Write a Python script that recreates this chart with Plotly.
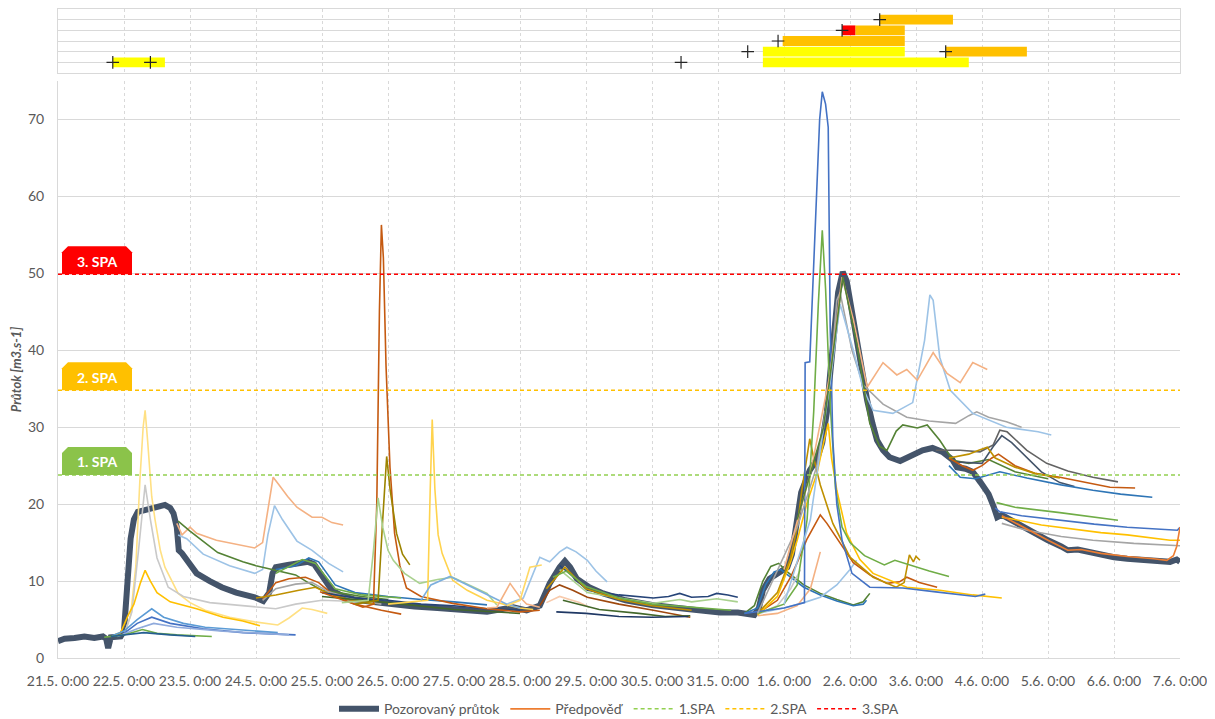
import pandas as pd
import plotly.graph_objects as go

START = pd.Timestamp("2021-05-21")
END_DAY = 17

tick_days = list(range(18))
tick_labels = ["21.5. 0:00", "22.5. 0:00", "23.5. 0:00", "24.5. 0:00", "25.5. 0:00",
               "26.5. 0:00", "27.5. 0:00", "28.5. 0:00", "29.5. 0:00", "30.5. 0:00",
               "31.5. 0:00", "1.6. 0:00", "2.6. 0:00", "3.6. 0:00", "4.6. 0:00",
               "5.6. 0:00", "6.6. 0:00", "7.6. 0:00"]

# observed flow (day offset from 21.5. 0:00, m3/s)
obs_day = [0.00, 0.10, 0.25, 0.40, 0.55, 0.68, 0.73, 0.76, 0.80, 0.95, 1.00, 1.03, 1.06, 1.10,
           1.15, 1.21, 1.30, 1.47, 1.62, 1.70, 1.75, 1.80, 1.83, 1.88, 2.00, 2.10, 2.30, 2.48,
           2.70, 2.98, 3.11, 3.20, 3.25, 3.30, 3.48, 3.65, 3.79, 3.88, 3.94, 4.05, 4.15, 4.30,
           4.50, 4.75, 5.00, 5.40, 5.75, 6.20, 6.50, 6.90, 7.10, 7.30, 7.45, 7.60, 7.68, 7.76,
           7.86, 8.05, 8.26, 8.60, 9.00, 9.50, 10.03, 10.30, 10.55, 10.62, 10.68, 10.78, 10.90,
           11.05, 11.12, 11.20, 11.26, 11.39, 11.50, 11.58, 11.65, 11.70, 11.76, 11.82, 11.89,
           11.95, 12.03, 12.11, 12.20, 12.26, 12.34, 12.41, 12.50, 12.60, 12.76, 12.95, 13.10,
           13.25, 13.40, 13.55, 13.62, 13.75, 13.86, 13.98, 14.10, 14.18, 14.23, 14.30, 14.40,
           14.60, 14.80, 15.00, 15.20, 15.30, 15.45, 15.60, 15.80, 16.00, 16.20, 16.45, 16.70,
           16.85, 16.95, 17.00]
obs_flow = [2.2, 2.5, 2.6, 2.8, 2.6, 2.8, 2.5, 1.3, 2.7, 2.8, 3.5, 7.0, 11.8, 15.5,
            18.0, 19.0, 19.2, 19.6, 19.9, 19.5, 18.8, 17.0, 14.0, 13.6, 12.0, 11.0, 10.0, 9.2,
            8.5, 7.9, 7.4, 8.5, 11.0, 11.8, 12.1, 12.3, 12.5, 12.2, 11.4, 9.9, 8.8, 8.1,
            7.6, 7.3, 7.0, 6.7, 6.5, 6.1, 6.0, 6.6, 6.2, 6.8, 9.7, 11.8, 12.6, 11.8,
            10.3, 9.2, 8.4, 7.5, 6.9, 6.4, 5.9, 5.9, 5.6, 6.5, 8.8, 10.3, 11.0,
            11.8, 13.5, 18.5, 21.5, 24.4, 25.8, 28.0, 32.0, 37.0, 43.0, 47.5, 50.2,
            49.0, 45.0, 41.0, 36.0, 33.5, 30.5, 28.3, 27.0, 26.1, 25.6, 26.3, 27.0,
            27.3, 26.8, 25.8, 24.8, 24.6, 24.2, 22.8, 21.3, 19.6, 18.3, 18.6, 18.1,
            17.2, 16.3, 15.3, 14.5, 14.0, 14.1, 13.8, 13.4, 13.1, 12.9, 12.8, 12.6,
            12.5, 12.8, 12.5]

# forecasts: (day offset, flow)
fc_a1 = [(1.0, 3.0), (1.10, 5.5), (1.18, 12), (1.24, 23), (1.29, 30), (1.32, 32.2), (1.36, 28),
         (1.42, 21), (1.47, 18), (1.55, 14), (1.62, 11.8), (1.82, 8.4), (2.0, 7.2), (2.23, 6.2),
         (2.6, 5.3), (2.98, 4.7), (3.33, 4.3), (3.5, 5.2), (3.7, 6.5), (3.85, 6.3), (4.08, 5.8)]
fc_a2 = [(1.0, 3.0), (1.12, 6), (1.22, 14), (1.32, 22.5), (1.40, 18), (1.50, 13), (1.67, 9.2),
         (1.9, 8.0), (2.3, 7.2), (2.98, 6.6), (3.3, 6.4), (3.6, 7.0), (4.0, 7.5), (4.3, 7.4), (4.6, 7.3)]
fc_a3 = [(0.85, 3.0), (0.95, 3.3), (1.06, 5.5), (1.15, 7), (1.25, 9.8), (1.32, 11.4), (1.40, 10),
         (1.5, 8.5), (1.7, 7.3), (2.1, 6.4), (2.5, 5.3), (2.8, 4.8), (3.06, 4.2)]
fc_a4 = [(0.82, 2.9), (1.0, 3.5), (1.2, 5.0), (1.42, 6.4), (1.6, 5.3), (1.9, 4.5), (2.23, 4.0),
         (2.8, 3.6), (3.33, 3.3)]
fc_a5 = [(1.0, 3.2), (1.2, 4.5), (1.42, 5.3), (1.7, 4.5), (2.2, 3.8), (2.8, 3.3), (3.6, 3.0)]
fc_a6 = [(0.9, 2.8), (1.2, 3.8), (1.45, 4.5), (1.8, 4.0), (2.5, 3.5), (3.1, 3.2), (3.5, 3.0)]
fc_a7 = [(0.7, 2.7), (1.0, 3.0), (1.28, 3.7), (1.5, 3.2), (1.8, 3.0), (2.33, 2.8)]
fc_a8 = [(0.8, 2.8), (1.3, 3.3), (1.7, 3.0), (2.08, 2.8)]
fc_b1 = [(1.80, 17.5), (1.88, 16.0), (2.0, 17.0), (2.1, 16.2), (2.4, 15.3), (2.7, 14.8), (2.98, 14.3),
         (3.1, 15.0), (3.18, 19), (3.26, 23.5), (3.35, 22.5), (3.48, 21), (3.62, 19.6), (3.85, 18.3),
         (4.0, 18.3), (4.15, 17.6), (4.32, 17.3)]
fc_b2 = [(1.82, 16), (1.95, 15.5), (2.2, 13.5), (2.6, 12.0), (2.98, 11.0), (3.1, 11.5), (3.18, 16),
         (3.28, 19.8), (3.40, 18), (3.62, 15.2), (3.85, 14.0), (4.1, 12.3), (4.32, 11.2)]
fc_b3 = [(1.82, 17.8), (2.0, 16.5), (2.42, 13.7), (2.8, 12.5), (3.0, 12.0), (3.29, 11.4), (3.6, 10.8),
         (3.79, 9.8), (4.0, 8.8), (4.32, 8.4), (4.6, 8.0), (5.0, 7.6)]
fc_c1 = [(3.1, 7.6), (3.3, 9.8), (3.5, 10.3), (3.75, 10.5), (3.95, 9.8), (4.2, 8.0), (4.5, 7.0),
         (4.9, 6.2), (5.2, 5.7)]
fc_c2 = [(3.1, 7.5), (3.3, 9.0), (3.6, 9.6), (3.85, 9.8), (4.1, 8.6), (4.5, 7.6), (4.9, 7.0)]
fc_c3 = [(3.0, 7.8), (3.3, 8.2), (3.65, 8.8), (3.9, 9.2), (4.1, 8.4), (4.4, 7.6), (4.8, 7.0)]
fc_c4 = [(3.3, 11.5), (3.6, 12.0), (3.8, 13.0), (3.95, 12.5), (4.2, 9.5), (4.5, 8.5), (5.0, 8.0),
         (5.5, 7.6), (6.0, 7.3), (6.5, 6.9)]
fc_c5 = [(3.3, 11), (3.7, 12.8), (3.9, 12.3), (4.2, 9.0), (4.6, 8.2), (5.2, 7.8)]
fc_d1 = [(3.97, 8.6), (4.3, 7.6), (4.62, 6.6), (4.78, 7.0), (4.83, 20), (4.87, 45), (4.90, 56.3),
         (4.93, 52), (4.97, 38), (5.03, 24.8), (5.10, 16.2), (5.18, 12), (5.28, 9.1), (5.5, 8.0),
         (5.98, 7.1), (6.5, 6.4), (7.0, 6.0), (7.3, 6.2)]
fc_d2 = [(4.5, 7.0), (4.85, 7.5), (4.92, 18), (4.98, 26.2), (5.03, 22), (5.13, 16.2), (5.22, 13.5),
         (5.33, 12.1)]
fc_d3 = [(4.3, 7.2), (4.7, 7.5), (4.78, 14), (4.85, 20.8), (4.92, 17), (5.0, 14), (5.08, 12.7),
         (5.25, 11), (5.48, 9.7), (5.75, 10.2), (5.98, 10.5), (6.2, 9.6), (6.5, 8.4), (6.65, 6.9)]
fc_d4 = [(5.0, 7.0), (5.6, 7.5), (5.64, 22), (5.67, 31), (5.71, 22), (5.76, 16), (5.82, 13.6),
         (5.98, 10.1), (6.2, 8.8), (6.5, 7.5), (7.0, 6.5), (7.2, 6.3)]
fc_d5 = [(5.5, 7.5), (5.65, 9.5), (5.94, 10.6), (6.2, 9.5), (6.5, 8.3), (6.8, 7.0), (7.0, 6.5)]
fc_d6 = [(4.0, 8.5), (4.5, 7.8), (5.0, 7.5), (5.5, 7.0), (6.0, 6.8), (6.5, 6.4), (7.0, 6.2)]
fc_d7 = [(4.0, 8.0), (5.0, 7.2), (6.0, 6.3), (7.0, 5.8)]
fc_e1 = [(6.8, 7.0), (7.05, 7.8), (7.2, 11), (7.3, 13.1), (7.45, 12.5), (7.6, 13.8), (7.71, 14.4),
         (7.85, 13.8), (8.02, 12.7), (8.15, 11.3), (8.32, 9.9)]
fc_e2 = [(6.5, 6.5), (6.65, 6.6), (6.85, 9.7), (7.0, 7.9), (7.1, 7.0), (7.3, 6.6)]
fc_e3 = [(6.8, 6.8), (7.0, 7.5), (7.15, 11.8), (7.33, 12.1)]
fc_e4 = [(7.3, 6.8), (7.45, 8.8), (7.6, 9.5), (7.8, 8.8), (8.02, 7.9), (8.5, 7.0), (9.02, 6.2),
         (9.58, 5.3)]
fc_e5 = [(7.4, 7.2), (7.6, 8.0), (7.9, 7.2), (8.05, 6.6)]
fc_e6 = [(7.6, 12), (7.75, 11), (8.02, 8.8), (8.5, 8.2), (9.02, 7.8), (9.25, 8.0), (9.42, 8.4),
         (9.6, 7.9), (9.85, 8.0), (9.98, 8.4), (10.15, 8.2), (10.3, 7.9)]
fc_e7 = [(7.6, 11.5), (8.02, 8.5), (8.5, 7.8), (9.02, 7.1), (9.42, 7.6), (9.6, 7.3), (9.98, 7.7),
         (10.3, 7.3)]
fc_e8 = [(7.65, 7.5), (7.8, 7.2), (8.2, 6.3), (8.8, 5.8), (9.2, 5.4), (9.58, 5.5)]
fc_e9 = [(7.55, 6.0), (8.0, 5.8), (8.5, 5.4), (9.0, 5.3), (9.55, 5.4)]
fc_e10 = [(7.4, 9), (7.68, 11.8), (8.0, 9), (8.5, 7.6), (9.0, 6.8), (9.6, 6.2)]
fc_e11 = [(7.5, 10.5), (7.7, 11.3), (8.0, 9.3), (8.5, 7.8), (9.0, 7.0), (9.6, 6.6), (10.2, 6.2)]
fc_f1 = [(10.4, 5.8), (10.55, 6.8), (10.68, 10), (10.8, 11.9), (10.92, 12.3), (11.05, 11.2),
         (11.3, 9.5), (11.55, 8.4), (11.8, 7.6), (12.05, 6.9), (12.2, 7.3), (12.3, 8.4)]
fc_f2 = [(10.4, 5.8), (10.6, 6.5), (10.72, 9.5), (10.85, 11.2), (10.95, 11.5), (11.1, 10.5),
         (11.3, 9.2), (11.55, 8.2), (11.8, 7.4), (12.05, 6.8), (12.2, 7.0), (12.25, 7.5)]
fc_f3 = [(10.6, 5.8), (11.0, 6.5), (11.3, 7.2), (11.55, 7.9), (11.8, 9.5), (12.0, 11.5), (12.1, 12.7)]
fc_f4 = [(10.6, 5.5), (10.9, 5.8), (11.2, 6.8), (11.4, 9.0), (11.55, 13.8)]
fc_f5 = [(10.6, 5.7), (10.9, 6.8), (11.1, 9), (11.25, 11.5)]
fc_f6 = [(10.6, 5.8), (10.9, 7.5), (11.1, 10.5), (11.2, 12.4), (11.35, 15.5), (11.55, 18.6),
         (11.65, 17.5), (11.8, 15.6), (12.05, 12.4), (12.3, 10.8), (12.56, 9.7), (12.75, 9.9),
         (12.86, 10.5), (13.05, 9.8), (13.32, 9.2)]
fc_f7 = [(10.6, 5.6), (10.9, 8), (11.1, 12.5), (11.2, 15.3), (11.35, 20.2), (11.5, 24), (11.6, 28),
         (11.67, 30.5), (11.72, 26), (11.8, 21.8), (11.95, 16.2), (12.15, 12.8), (12.35, 11),
         (12.86, 9.2), (13.36, 8.8), (13.86, 8.2), (14.3, 7.8)]
fc_f8 = [(10.6, 5.8), (10.9, 8.5), (11.1, 13), (11.2, 17), (11.27, 21.8), (11.39, 28.5), (11.45, 26),
         (11.55, 22.5), (11.74, 17.5), (12.0, 13.1), (12.35, 10.5), (12.7, 9.2), (12.82, 9.8),
         (12.9, 13.4), (12.96, 12.5), (13.0, 13.2), (13.06, 12.7)]
fc_f9 = [(10.6, 5.8), (11.0, 7), (11.2, 9.5), (11.35, 18), (11.45, 32), (11.52, 46), (11.58, 55.6),
         (11.63, 48), (11.7, 33), (11.78, 22), (11.88, 17), (12.0, 15), (12.22, 13.3), (12.52, 12.1),
         (12.68, 12.7), (12.9, 12.1), (13.2, 11.3), (13.5, 10.6)]
fc_f10 = [(10.4, 5.8), (11.0, 6.5), (11.31, 7.2), (11.32, 38.4), (11.39, 38.5), (11.47, 55),
          (11.54, 70), (11.58, 73.6), (11.63, 72), (11.67, 69), (11.70, 43), (11.74, 28.3),
          (11.8, 20), (11.88, 15.3), (12.03, 11), (12.3, 9.2), (12.8, 9.1), (13.3, 8.6),
          (13.9, 8.0), (14.05, 8.3)]
fc_f11 = [(10.6, 5.8), (11.2, 17), (11.5, 25), (11.7, 36), (11.8, 46.5), (11.85, 47.5), (12.03, 40),
          (12.2, 35.5), (12.5, 33), (12.86, 31.3), (13.2, 30.8), (13.6, 30.5), (13.8, 31.5),
          (13.92, 32), (14.1, 31.3), (14.37, 30.7), (14.6, 30.0)]
fc_f12 = [(11.0, 7), (11.4, 18), (11.7, 36), (11.85, 46), (12.05, 40), (12.2, 35), (12.35, 32.2),
          (12.65, 31.8), (12.95, 33.2), (13.13, 41.3), (13.21, 47.2), (13.26, 46.5), (13.36, 39.1),
          (13.52, 34.8), (13.86, 31.8), (14.37, 30), (14.85, 29.4), (15.05, 29.0)]
fc_f13 = [(11.0, 11.5), (11.4, 24), (11.7, 37), (11.88, 49.5), (12.05, 44), (12.26, 35.2), (12.5, 38.4),
          (12.71, 36.8), (12.86, 37.5), (13.02, 36.1), (13.26, 39.7), (13.47, 37), (13.67, 35.8),
          (13.86, 38.4), (14.08, 37.5)]
fc_f14 = [(11.2, 18), (11.6, 30), (11.89, 49.5), (12.1, 41), (12.3, 30.5), (12.45, 27.5), (12.56, 27),
          (12.7, 29.5), (12.8, 30.3), (13.02, 29.9), (13.17, 30.3), (13.36, 28.3), (13.56, 25.7),
          (13.8, 25.3), (14.1, 25.8), (14.5, 24.2), (15.0, 23.3)]
fc_g1 = [(13.3, 27), (13.67, 27), (13.97, 26.8), (14.17, 27.7), (14.27, 29.6), (14.38, 29.4),
         (14.68, 27), (14.98, 25.3), (15.3, 24.3), (15.68, 23.5), (16.06, 22.9)]
fc_g2 = [(13.6, 25.5), (14.0, 25.3), (14.17, 27.5), (14.3, 28.9), (14.45, 28), (14.68, 26.1),
         (14.9, 24.2), (15.18, 22.8), (15.4, 22.3)]
fc_g3 = [(13.5, 26), (13.7, 25), (13.86, 24.4), (14.0, 25.0), (14.15, 26.0), (14.25, 26.5),
         (14.5, 25.0), (14.8, 24.0), (15.18, 23.5), (15.6, 22.8), (15.94, 22.2), (16.32, 22.1)]
fc_g4 = [(13.5, 26), (13.8, 26.5), (13.95, 27), (14.08, 27.4), (14.2, 26), (14.5, 24.8),
         (14.8, 24.0), (15.18, 23.4)]
fc_g5 = [(13.5, 25), (13.67, 23.5), (13.9, 23.3), (14.1, 23.8), (14.27, 24.2), (14.68, 23.4),
         (15.2, 22.5), (15.68, 21.8), (16.1, 21.3), (16.58, 20.9)]
fc_g6 = [(14.22, 20.2), (14.5, 19.6), (15.18, 18.9), (15.5, 18.5), (16.06, 17.9)]
fc_g7 = [(14.2, 19.5), (14.27, 19), (14.6, 18.5), (15.18, 17.9), (15.7, 17.4), (16.2, 17.0),
         (16.84, 16.6), (16.96, 16.6), (17.0, 17)]
fc_g8 = [(14.3, 18.3), (14.5, 18.0), (14.9, 17.3), (15.18, 17.0), (15.8, 16.3), (16.2, 16.0),
         (16.85, 15.3), (17.0, 15.3)]
fc_g9 = [(14.3, 17.5), (14.68, 16.6), (15.2, 15.8), (15.68, 15.3), (16.3, 14.9), (17.0, 14.6)]
fc_g10 = [(14.3, 18.5), (14.6, 17.1), (15.0, 15.3), (15.3, 14.0), (15.5, 14.1), (15.8, 13.6),
          (16.2, 13.2), (16.6, 12.9), (16.8, 12.7), (16.9, 13.3), (16.95, 14.5), (17.0, 17.0)]

# thresholds
spa_levels = [23.8, 34.8, 49.9]
spa_names = ["1.SPA", "2.SPA", "3.SPA"]
spa_labels = ["1. SPA", "2. SPA", "3. SPA"]

# warning strip (row, start day, end day, level 1/2/3)
warn_row = [1, 1, 2, 2, 3, 4, 4, 5]
warn_start = [0.83, 10.68, 10.68, 13.45, 10.98, 11.88, 12.08, 12.45]
warn_end = [1.62, 13.80, 12.83, 14.68, 12.83, 12.08, 12.83, 13.56]
warn_level = [1, 1, 1, 2, 2, 3, 2, 2]
issue_row = [1, 1, 1, 2, 2, 3, 4, 5]
issue_day = [0.83, 1.40, 9.44, 10.45, 13.45, 10.91, 11.88, 12.45]

# ---------------- styling ----------------
LEVEL_COLORS = {1: "#FFFF00", 2: "#FFC000", 3: "#FF0000"}
SPA_COLORS = ["#92D050", "#FFC000", "#FF0000"]
SPA_BOX = ["#8BC34A", "#FFC000", "#FF0000"]
OBS_COLOR = "#44546A"
GRID = "#D9D9D9"
TXT = "#595959"
FONT = "Lato"

forecast_styles = [
    (fc_a1, "#FFE083"), (fc_a2, "#C9C9C9"), (fc_a3, "#FFC000"), (fc_a4, "#5B9BD5"),
    (fc_a5, "#4472C4"), (fc_a6, "#8FAADC"), (fc_a7, "#70AD47"), (fc_a8, "#255E91"),
    (fc_b1, "#F4B183"), (fc_b2, "#9DC3E6"), (fc_b3, "#548235"),
    (fc_c1, "#C55A11"), (fc_c2, "#A5A5A5"), (fc_c3, "#BF9000"), (fc_c4, "#2E75B6"), (fc_c5, "#70AD47"),
    (fc_d6, "#264478"), (fc_d7, "#43682B"),
    (fc_d1, "#C55A11"), (fc_d2, "#9C8400"), (fc_d3, "#A9D18E"), (fc_d4, "#FFD34D"), (fc_d5, "#7CAFDD"),
    (fc_e1, "#9DC3E6"), (fc_e2, "#F4B183"), (fc_e3, "#FFD966"), (fc_e4, "#9E480E"), (fc_e5, "#F8CBAD"),
    (fc_e6, "#264478"), (fc_e7, "#A9D18E"), (fc_e8, "#43682B"), (fc_e9, "#1F3864"),
    (fc_e10, "#BF9000"), (fc_e11, "#70AD47"),
    (fc_f1, "#548235"), (fc_f2, "#2E75B6"), (fc_f3, "#9DC3E6"), (fc_f4, "#F4B183"), (fc_f5, "#C9C9C9"),
    (fc_f6, "#C55A11"), (fc_f7, "#FFC000"), (fc_f8, "#BF9000"), (fc_f9, "#70AD47"), (fc_f10, "#4472C4"),
    (fc_f11, "#A5A5A5"), (fc_f12, "#9DC3E6"), (fc_f13, "#F4B183"), (fc_f14, "#548235"),
    (fc_g1, "#636363"), (fc_g2, "#44546A"), (fc_g3, "#C55A11"), (fc_g4, "#BF9000"), (fc_g5, "#2E75B6"),
    (fc_g6, "#70AD47"), (fc_g7, "#4472C4"), (fc_g8, "#FFC000"), (fc_g9, "#A5A5A5"),
]
legend_forecast = fc_g10
legend_forecast_color = "#ED7D31"


def to_dates(days):
    return [START + pd.Timedelta(days=float(d)) for d in days]


fig = go.Figure()

# observed flow
fig.add_trace(go.Scatter(x=to_dates(obs_day), y=obs_flow, mode="lines", name="Pozorovaný průtok",
                         line=dict(color=OBS_COLOR, width=6), legendrank=1,
                         xaxis="x", yaxis="y"))

# forecasts
for pts, col in forecast_styles:
    fig.add_trace(go.Scatter(x=to_dates([p[0] for p in pts]), y=[p[1] for p in pts], mode="lines",
                             line=dict(color=col, width=1.6), showlegend=False,
                             hoverinfo="skip", xaxis="x", yaxis="y"))
fig.add_trace(go.Scatter(x=to_dates([p[0] for p in legend_forecast]), y=[p[1] for p in legend_forecast],
                         mode="lines", name="Předpověď", line=dict(color=legend_forecast_color, width=1.6),
                         legendrank=2, xaxis="x", yaxis="y"))

# threshold lines
for i, (lvl, nm, col) in enumerate(zip(spa_levels, spa_names, SPA_COLORS)):
    fig.add_trace(go.Scatter(x=to_dates([0, END_DAY]), y=[lvl, lvl], mode="lines", name=nm,
                             line=dict(color=col, width=1.5, dash="4px,3px"), legendrank=3 + i,
                             xaxis="x", yaxis="y"))

# threshold labels
for lvl, lab, col in zip(spa_levels, spa_labels, SPA_BOX):
    fig.add_shape(type="path", xref="x", yref="y", xsizemode="pixel", ysizemode="pixel",
                  xanchor=START, yanchor=lvl,
                  path="M 4,0 L 4,22 L 10,28 L 68,28 L 74,22 L 74,0 Z",
                  fillcolor=col, line=dict(width=0), layer="above")
    fig.add_annotation(x=START, y=lvl, xref="x", yref="y", text="<b>%s</b>" % lab, showarrow=False,
                       xanchor="center", yanchor="middle", xshift=39, yshift=13,
                       font=dict(family=FONT, size=14, color="white"))

# warning strip bars
for lv in (1, 2, 3):
    idx = [i for i, l in enumerate(warn_level) if l == lv]
    fig.add_trace(go.Bar(orientation="h",
                         base=to_dates([warn_start[i] for i in idx]),
                         x=[(warn_end[i] - warn_start[i]) * 86400000 for i in idx],
                         y=[warn_row[i] for i in idx], width=0.92,
                         marker=dict(color=LEVEL_COLORS[lv], line=dict(width=0)),
                         showlegend=False, hoverinfo="skip", xaxis="x2", yaxis="y2"))
fig.add_trace(go.Scatter(x=to_dates(issue_day), y=issue_row, mode="markers", showlegend=False,
                         marker=dict(symbol="cross-thin", size=9, line=dict(color="#262626", width=1.2)),
                         hoverinfo="skip", xaxis="x2", yaxis="y2"))

# the page body adds an 8px offset at top/left, so the figure is sized 8px smaller
xrange = [START, START + pd.Timedelta(days=END_DAY)]
fig.update_layout(
    width=1207, height=711,
    margin=dict(l=50, r=35, t=1, b=61, autoexpand=False),
    paper_bgcolor="white", plot_bgcolor="white",
    font=dict(family=FONT, size=14, color=TXT),
    barmode="overlay",
    showlegend=True,
    legend=dict(orientation="h", x=0.5, xanchor="center", y=-0.079, yanchor="middle",
                font=dict(family=FONT, size=14, color=TXT), itemwidth=40, tracegroupgap=0),
    xaxis=dict(type="date", range=xrange, tickvals=to_dates(tick_days), ticktext=tick_labels,
               tickangle=0, showgrid=True, gridcolor=GRID, griddash="dot", gridwidth=1,
               showline=True, linecolor=GRID, linewidth=1, ticks="", zeroline=False,
               ticklabelstandoff=10, automargin=False,
               tickfont=dict(family=FONT, size=14, color=TXT), anchor="y"),
    yaxis=dict(domain=[0, 0.889], range=[0, 75], tickvals=[0, 10, 20, 30, 40, 50, 60, 70],
               showgrid=True, gridcolor=GRID, gridwidth=1, zeroline=False, automargin=False,
               showline=True, linecolor=GRID, ticks="", ticklabelstandoff=10,
               tickfont=dict(family=FONT, size=14, color=TXT),
               title=dict(text="Průtok [m3.s-1]", standoff=8,
                          font=dict(family=FONT, size=13, color=TXT, weight="bold", style="italic"))),
    xaxis2=dict(type="date", range=xrange, matches="x", showticklabels=False, tickvals=to_dates(tick_days),
                showgrid=True, gridcolor=GRID, griddash="dot", showline=True, mirror=True,
                linecolor=GRID, ticks="", zeroline=False, anchor="y2", automargin=False),
    yaxis2=dict(domain=[0.9014, 1], range=[0, 6], tickvals=[1, 2, 3, 4, 5], showticklabels=False,
                showgrid=True, gridcolor=GRID, showline=True, mirror=True, linecolor=GRID,
                ticks="", zeroline=False, anchor="x2", fixedrange=True, automargin=False),
)

fig.write_html("out.html")
